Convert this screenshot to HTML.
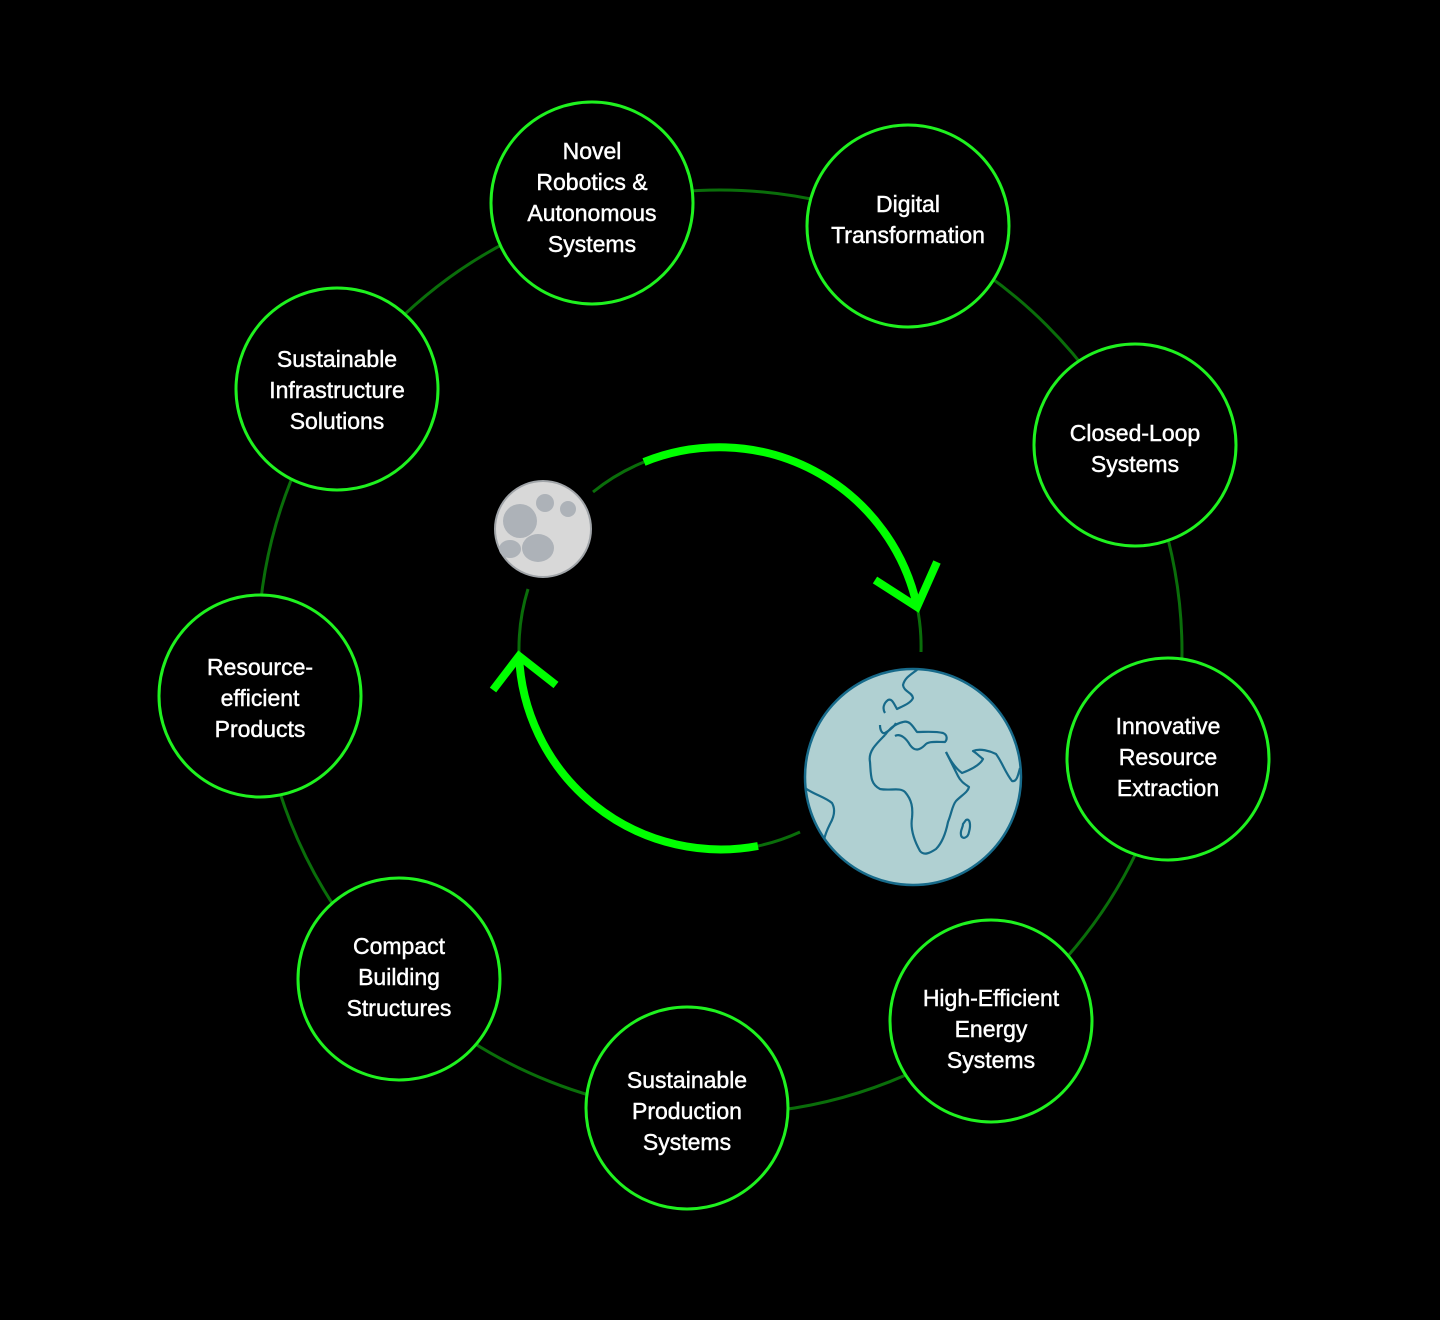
<!DOCTYPE html>
<html><head><meta charset="utf-8"><style>
html,body{margin:0;padding:0;background:#000;}
svg{display:block}
text{font-family:"Liberation Sans",sans-serif;font-size:23px;fill:#fff;stroke:#fff;stroke-width:0.45px;text-anchor:middle;}
</style></head><body>
<svg width="1440" height="1320" viewBox="0 0 1440 1320">
<rect width="1440" height="1320" fill="#000"/>
<circle cx="720" cy="652" r="462" fill="none" stroke="#0a6e0a" stroke-width="3"/>
<g fill="none" stroke-linecap="butt">
<path d="M593,492 A202,202 0 0 1 644,462" stroke="#0a6e0a" stroke-width="3"/>
<path d="M644,462 A202,202 0 0 1 917,606" stroke="#00ff00" stroke-width="8"/>
<path d="M917,606 A202,202 0 0 1 921,652" stroke="#0a6e0a" stroke-width="3"/>
<path d="M800,832 A202,202 0 0 1 758,846" stroke="#0a6e0a" stroke-width="3"/>
<path d="M758,846 A202,202 0 0 1 519,655" stroke="#00ff00" stroke-width="8"/>
<path d="M519,652 A202,202 0 0 1 528,589" stroke="#0a6e0a" stroke-width="3"/>
<polyline points="875,580 917,607 937,562" stroke="#00ff00" stroke-width="8"/>
<polyline points="493,690 519,656 556,685" stroke="#00ff00" stroke-width="8"/>
</g>
<circle cx="543" cy="529" r="48" fill="#d8d8d8" stroke="#a0a4a8" stroke-width="2"/>
<circle cx="520" cy="521" r="17" fill="#adb2b8"/>
<circle cx="545" cy="503" r="9" fill="#adb2b8"/>
<circle cx="568" cy="509" r="8" fill="#adb2b8"/>
<ellipse cx="538" cy="548" rx="16" ry="14" fill="#adb2b8"/>
<ellipse cx="510" cy="549" rx="11" ry="9" fill="#adb2b8"/>
<clipPath id="ec"><circle cx="913" cy="777" r="108"/></clipPath>
<circle cx="913" cy="777" r="108" fill="#b0d0d2" stroke="#176a8a" stroke-width="2.5"/>
<g clip-path="url(#ec)" fill="none" stroke="#176a8a" stroke-width="2.2" stroke-linejoin="round">
<path d="M885,735 C875,745 868,752 870,762 C871,775 870,784 880,789 C890,791 900,787 905,792 C912,800 913,808 912,818 C910,830 915,842 920,851 C924,856 930,853 936,849 C943,842 946,832 948,822 C952,812 952,806 956,801 C962,795 968,792 969,787 C965,784 961,782 958,776 C954,768 950,760 946,752"/>
<path d="M885,735 C890,728 895,724 903,722 C910,720 913,727 917,732 C925,732 935,731 943,733 C948,735 947,740 945,742 C935,742 928,741 925,745 C920,750 915,752 910,745 C906,738 900,733 895,736"/>
<path d="M946,752 C950,760 955,768 962,773 C970,770 980,765 983,759 C978,755 975,752 973,751 C980,748 990,751 996,754 C1002,762 1005,772 1012,781 C1017,782 1018,775 1020,768"/>
<path d="M880,725 C880,730 882,734 885,733 C890,730 894,727 896,723 M885,713 C882,708 884,703 888,700 C892,698 894,704 897,709 C903,706 911,703 913,698 C912,692 904,692 903,685 C905,677 912,674 918,669"/>
<path d="M805,788 C815,795 825,797 832,803 C836,810 834,817 830,824 C827,830 825,835 824,840"/>
<path d="M966,820 C970,818 971,825 969,832 C968,838 962,840 961,835 C960,830 963,828 963,824 Z"/>
</g>
<g fill="#000" stroke="#1ff21f" stroke-width="3">
<circle cx="592" cy="203" r="101"/>
<circle cx="908" cy="226" r="101"/>
<circle cx="1135" cy="445" r="101"/>
<circle cx="1168" cy="759" r="101"/>
<circle cx="991" cy="1021" r="101"/>
<circle cx="687" cy="1108" r="101"/>
<circle cx="399" cy="979" r="101"/>
<circle cx="260" cy="696" r="101"/>
<circle cx="337" cy="389" r="101"/>
</g>
<text x="592" y="159">Novel</text>
<text x="592" y="190">Robotics &amp;</text>
<text x="592" y="221">Autonomous</text>
<text x="592" y="252">Systems</text>
<text x="908" y="212">Digital</text>
<text x="908" y="243">Transformation</text>
<text x="1135" y="441">Closed-Loop</text>
<text x="1135" y="472">Systems</text>
<text x="1168" y="734">Innovative</text>
<text x="1168" y="765">Resource</text>
<text x="1168" y="796">Extraction</text>
<text x="991" y="1006">High-Efficient</text>
<text x="991" y="1037">Energy</text>
<text x="991" y="1068">Systems</text>
<text x="687" y="1088">Sustainable</text>
<text x="687" y="1119">Production</text>
<text x="687" y="1150">Systems</text>
<text x="399" y="954">Compact</text>
<text x="399" y="985">Building</text>
<text x="399" y="1016">Structures</text>
<text x="260" y="675">Resource-</text>
<text x="260" y="706">efficient</text>
<text x="260" y="737">Products</text>
<text x="337" y="367">Sustainable</text>
<text x="337" y="398">Infrastructure</text>
<text x="337" y="429">Solutions</text>
</svg>
</body></html>
